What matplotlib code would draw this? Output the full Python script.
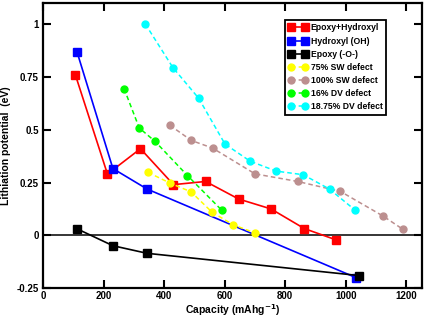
import matplotlib
matplotlib.use("Agg")
import matplotlib.pyplot as plt

plt.rcParams["font.family"] = ["Liberation Sans", "DejaVu Sans"]
plt.rcParams["font.weight"] = "bold"
plt.rcParams["mathtext.default"] = "bf"

# Epoxy+Hydroxyl
eh_x = [107, 213, 322, 431, 537, 646, 753, 863, 969]
eh_y = [0.76, 0.29, 0.41, 0.24, 0.255, 0.172, 0.125, 0.032, -0.022]
# Hydroxyl (OH)
oh_x = [113, 231, 344, 1035]
oh_y = [0.866, 0.316, 0.219, -0.201]
# Epoxy (-O-)
ep_x = [114, 231, 344, 1042]
ep_y = [0.03, -0.049, -0.085, -0.19]
# 75% SW defect
sw75_x = [347, 420, 489, 558, 628, 701]
sw75_y = [0.298, 0.247, 0.206, 0.11, 0.05, 0.011]
# 100% SW defect
sw100_x = [419, 490, 560, 700, 841, 982, 1122, 1189]
sw100_y = [0.521, 0.449, 0.413, 0.291, 0.255, 0.208, 0.092, 0.028]
# 16% DV defect
dv16_x = [268, 318, 370, 477, 591]
dv16_y = [0.694, 0.508, 0.445, 0.283, 0.118]
# 18.75% DV defect
dv18_x = [338, 429, 514, 601, 684, 770, 859, 946, 1029]
dv18_y = [1.0, 0.794, 0.649, 0.432, 0.351, 0.304, 0.287, 0.219, 0.121]

xticks = [0, 200, 400, 600, 800, 1000, 1200]
yticks = [-0.25, 0, 0.25, 0.5, 0.75, 1]
ytick_labels = ["-0.25", "0", "0.25", "0.5", "0.75", "1"]

fig = plt.figure(figsize=(4.25, 3.22), dpi=100)
ax = fig.add_axes([0.101, 0.105, 0.891, 0.886])

ax.axhline(0, color="black", linewidth=1.1, zorder=1)

sq = dict(marker="s", markersize=5.2, linewidth=1.2, linestyle="-")
ci = dict(marker="o", markersize=5, linewidth=1.1, linestyle=(0, (3, 2)))

ax.plot(eh_x, eh_y, color="red", label="Epoxy+Hydroxyl", **sq)
ax.plot(oh_x, oh_y, color="blue", label="Hydroxyl (OH)", **sq)
ax.plot(ep_x, ep_y, color="black", label="Epoxy (-O-)", **sq)
ax.plot(sw75_x, sw75_y, color="yellow", label="75% SW defect", **ci)
ax.plot(sw100_x, sw100_y, color="rosybrown", label="100% SW defect", **ci)
ax.plot(dv16_x, dv16_y, color="lime", label="16% DV defect", **ci)
ax.plot(dv18_x, dv18_y, color="cyan", label="18.75% DV defect", **ci)

ax.set_xlim(0, 1250)
ax.set_ylim(-0.25, 1.1)
ax.set_xticks(xticks)
ax.set_xticklabels([str(t) for t in xticks])
ax.set_yticks(yticks)
ax.set_yticklabels(ytick_labels)
ax.tick_params(direction="in", length=6, width=1.5, top=True, right=True,
               labelsize=7, pad=3)
ax.tick_params(axis="x", pad=2)
for s in ax.spines.values():
    s.set_linewidth(1.6)

ax.set_xlabel("Capacity (mAhg$^{-1}$)", fontsize=7.5, fontweight="bold",
              labelpad=1)
ax.set_ylabel("Lithiation potential  (eV)", fontsize=7.5, fontweight="bold",
              labelpad=4)

leg = ax.legend(loc="upper right", bbox_to_anchor=(0.917, 0.955), fontsize=6.2,
                numpoints=2, handlelength=2.2, handletextpad=0.4,
                labelspacing=0.48, borderpad=0.4, fancybox=False,
                framealpha=1, edgecolor="black")
leg.get_frame().set_linewidth(1.3)

fig.savefig("out.png", dpi=100)
